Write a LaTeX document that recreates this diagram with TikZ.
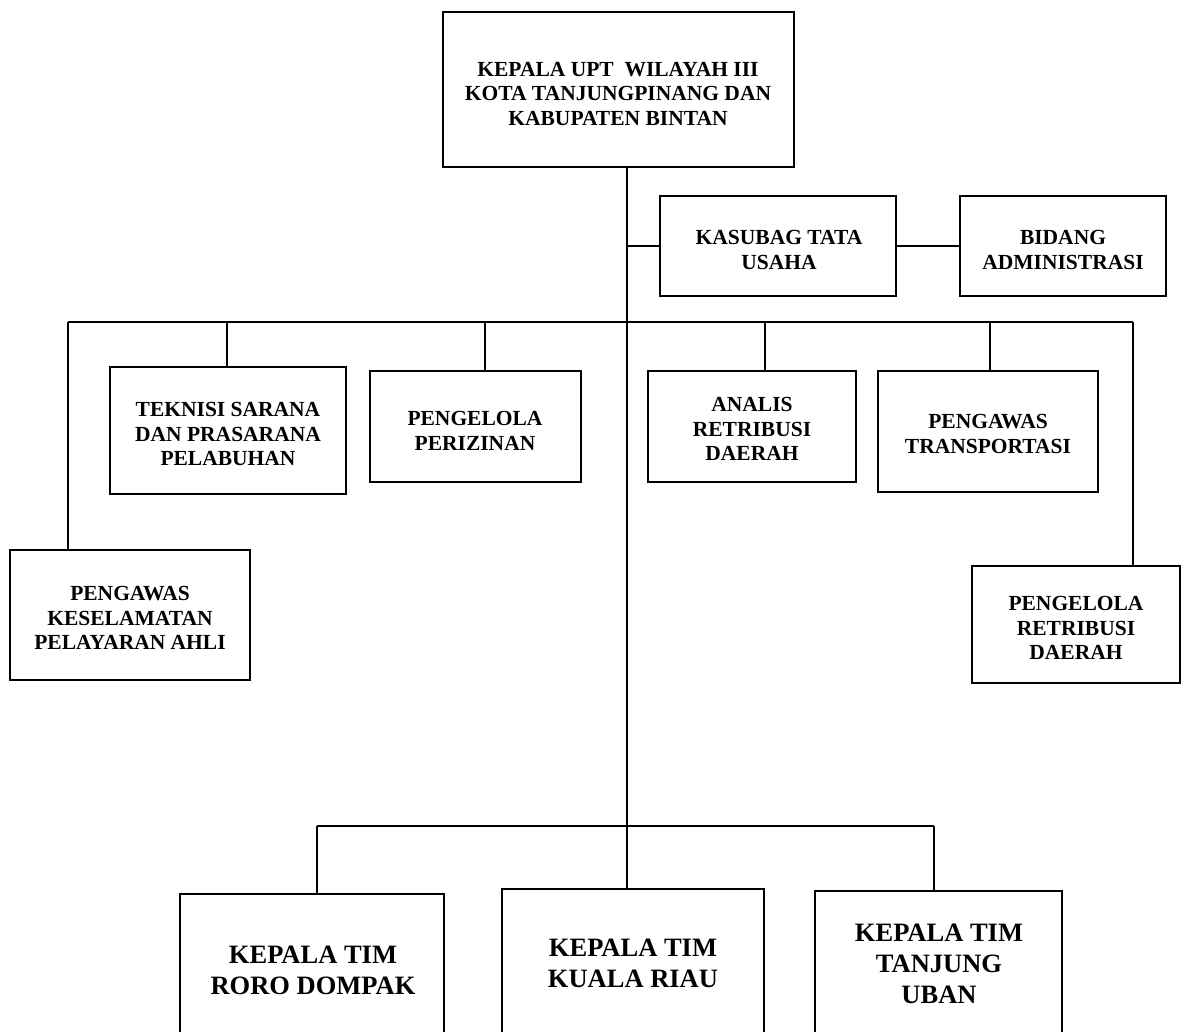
\documentclass[tikz,border=0pt]{standalone}
\usepackage{fontspec}
\setmainfont{Liberation Serif}
\begin{document}
\begin{tikzpicture}[x=1pt,y=-1pt,
  box/.style={draw,line width=2.6pt,anchor=north west,inner sep=0pt,outer sep=0pt},
  lbl/.style={align=center,inner sep=0pt,font=\fontsize{21.5}{24.5}\selectfont\bfseries},
  big/.style={align=center,inner sep=0pt,font=\fontsize{26.5}{31}\selectfont\bfseries},
  conn/.style={line width=1.3pt}]
\useasboundingbox (0,0) rectangle (1181,1032);
% boxes
\node[box,minimum width=351pt,minimum height=155pt] (top) at (443,12) {};
\node[box,minimum width=236pt,minimum height=100pt] (ks) at (660,196) {};
\node[box,minimum width=206pt,minimum height=100pt] (bd) at (960,196) {};
\node[box,minimum width=240pt,minimum height=130pt] (pk) at (10,550) {};
\node[box,minimum width=236pt,minimum height=127pt] (tk) at (110,367) {};
\node[box,minimum width=211pt,minimum height=111pt] (pp) at (370,371) {};
\node[box,minimum width=208pt,minimum height=111pt] (an) at (648,371) {};
\node[box,minimum width=220pt,minimum height=121pt] (pt) at (878,371) {};
\node[box,minimum width=208pt,minimum height=117pt] (pr) at (972,566) {};
\node[box,minimum width=264pt,minimum height=200pt] (rd) at (180,894) {};
\node[box,minimum width=262pt,minimum height=200pt] (kr) at (502,889) {};
\node[box,minimum width=247pt,minimum height=200pt] (tu) at (815,891) {};
% texts
\node[lbl] (ttop) at (618,94) {KEPALA UPT~ WILAYAH III\\KOTA TANJUNGPINANG DAN\\KABUPATEN BINTAN};
\node[lbl] (tks) at (779,250) {KASUBAG TATA\\USAHA};
\node[lbl] (tbd) at (1063,250) {BIDANG\\ADMINISTRASI};
\node[lbl] (tpk) at (130,618) {PENGAWAS\\KESELAMATAN\\PELAYARAN AHLI};
\node[lbl] (ttk) at (228,434) {TEKNISI SARANA\\DAN PRASARANA\\PELABUHAN};
\node[lbl] (tpp) at (475,431) {PENGELOLA\\PERIZINAN};
\node[lbl] (tan) at (752,429) {ANALIS\\RETRIBUSI\\DAERAH};
\node[lbl] (tpt) at (988,434) {PENGAWAS\\TRANSPORTASI};
\node[lbl] (tpr) at (1076,628) {PENGELOLA\\RETRIBUSI\\DAERAH};
\node[big] (trd) at (313,970) {KEPALA TIM\\RORO DOMPAK};
\node[big] (tkr) at (633,963) {KEPALA TIM\\KUALA RIAU};
\node[big] (ttu) at (939,964) {KEPALA TIM\\TANJUNG\\UBAN};
% connector coordinates
\coordinate (spx) at (627,0);
\coordinate (d1) at (68,322);
\coordinate (d2) at (227,322);
\coordinate (d3) at (485,322);
\coordinate (d4) at (765,322);
\coordinate (d5) at (990,322);
\coordinate (d6) at (1133,322);
\coordinate (b1) at (317,826);
\coordinate (b3) at (934,826);
% connectors
\draw[conn] (top.south -| spx) -- (kr.north -| spx);
\draw[conn] (ks.west) -- (ks.west -| spx);
\draw[conn] (ks.east) -- (bd.west);
\draw[conn] (d1) -- (d6);
\draw[conn] (d1) -- (d1 |- pk.north);
\draw[conn] (d2) -- (d2 |- tk.north);
\draw[conn] (d3) -- (d3 |- pp.north);
\draw[conn] (d4) -- (d4 |- an.north);
\draw[conn] (d5) -- (d5 |- pt.north);
\draw[conn] (d6) -- (d6 |- pr.north);
\draw[conn] (b1) -- (b3);
\draw[conn] (b1) -- (b1 |- rd.north);
\draw[conn] (b3) -- (b3 |- tu.north);
\end{tikzpicture}
\end{document}
